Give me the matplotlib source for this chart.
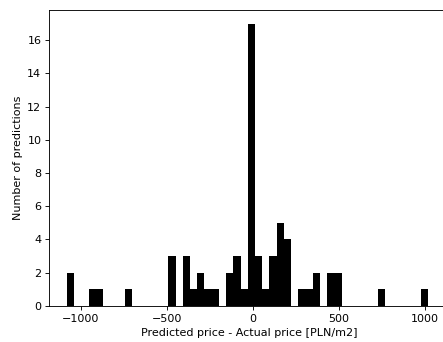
import numpy as np
import matplotlib
matplotlib.use("Agg")
import matplotlib.pyplot as plt

# histogram of prediction errors, 50 equal bins between data min and max
err_min = -1078.0
err_max = 1021.0
counts = [2, 0, 0, 1, 1, 0, 0, 0, 1, 0,
          0, 0, 0, 0, 3, 0, 3, 1, 2, 1,
          1, 0, 2, 3, 1, 17, 3, 1, 3, 5,
          4, 0, 1, 1, 2, 0, 2, 2, 0, 0,
          0, 0, 0, 1, 0, 0, 0, 0, 0, 1]

edges = np.linspace(err_min, err_max, len(counts) + 1)

dpi = 80
fig = plt.figure(figsize=(443 / dpi, 342 / dpi), dpi=dpi)
# axes run a little past the right edge of the picture (cropped like the original)
ax = fig.add_axes([0.111, 0.106, 0.905, 0.866])
ax.hist(edges[:-1], bins=edges, weights=counts, color="black")
ax.set_xlim(-1183, -1183 + (1.016 - 0.111) * 443 / 0.172)
ax.spines["right"].set_visible(False)
ax.set_xlabel("Predicted price - Actual price [PLN/m2]")
ax.set_ylabel("Number of predictions")

fig.savefig("out.png", dpi=dpi)
